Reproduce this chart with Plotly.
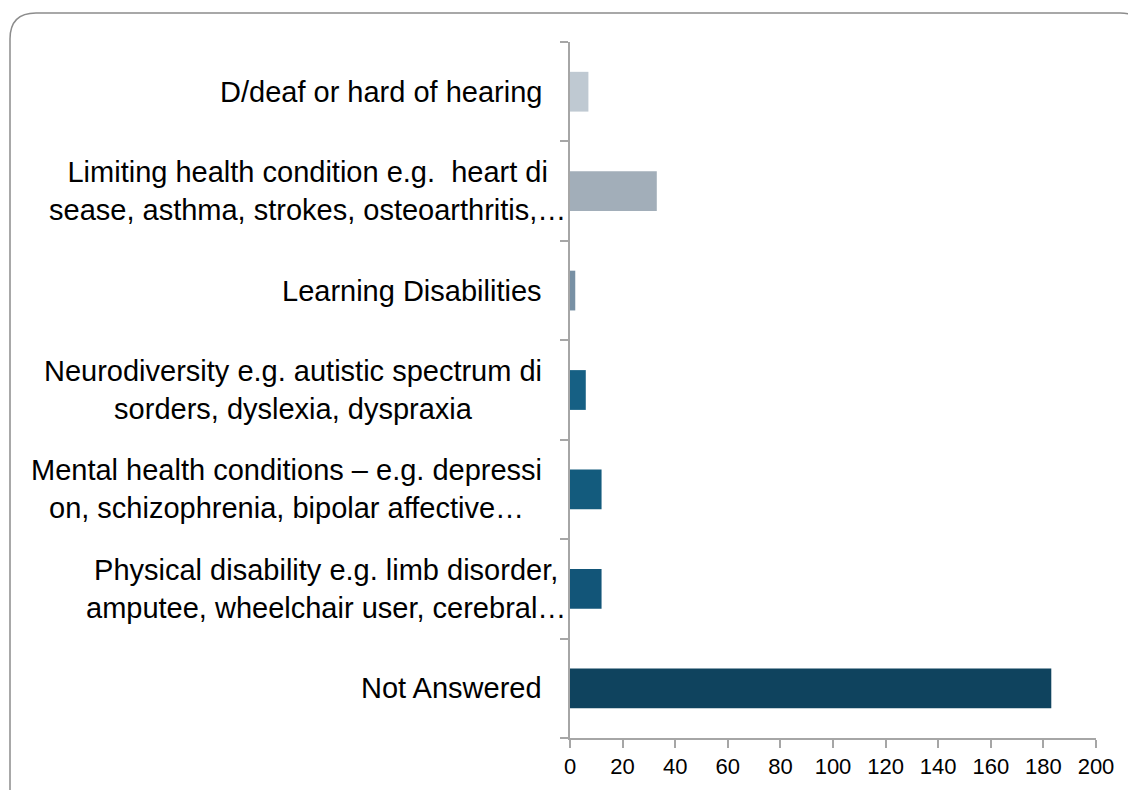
import plotly.graph_objects as go

categories = [
    "D/deaf or hard of hearing",
    "Limiting health condition e.g.\u00a0 heart di<br>sease, asthma, strokes, osteoarthritis,\u2026",
    "Learning Disabilities",
    "Neurodiversity e.g. autistic spectrum di<br>sorders, dyslexia, dyspraxia",
    "Mental health conditions \u2013 e.g. depressi<br>on, schizophrenia, bipolar affective\u2026",
    "Physical disability e.g. limb disorder,<br>amputee, wheelchair user, cerebral\u2026",
    "Not Answered",
]
values = [7, 33, 2, 6, 12, 12, 183]
colors = ["#BFC9D2", "#A2AEB9", "#7890A4", "#166084", "#135B7D", "#125578", "#0F435E"]
x_ticks = [0, 20, 40, 60, 80, 100, 120, 140, 160, 180, 200]

W, H = 1128, 790
L, R, T, B = 570, 32, 42, 52
pw, ph = W - L - R, H - T - B

def px(x):
    return (x - L) / pw

def py(y):
    return (H - B - y) / ph

ids = list(range(len(categories)))

fig = go.Figure(go.Bar(
    x=values, y=ids, orientation="h",
    marker=dict(color=colors, line=dict(width=0)),
    hoverinfo="x",
))

# labels whose wrapped text overflows toward the axis (as in the original)
overflow_shift = {1: 24, 5: 24}

annotations = []
for i, lab in enumerate(categories):
    annotations.append(dict(
        x=0, xref="paper", y=i, yref="y", text=lab,
        xanchor="right", yanchor="middle", align="center",
        xshift=-26 + overflow_shift.get(i, 0), showarrow=False,
        font=dict(family="Liberation Sans, Arial, sans-serif", size=29, color="#000000"),
    ))

# rounded border frame
x0, y0, x1, y1, r = 10, 13, 1146, 815, 26
path = (
    f"M {px(x0)},{py(y0 + r)} Q {px(x0)},{py(y0)} {px(x0 + r)},{py(y0)} "
    f"L {px(x1 - r)},{py(y0)} Q {px(x1)},{py(y0)} {px(x1)},{py(y0 + r)} "
    f"L {px(x1)},{py(y1 - r)} Q {px(x1)},{py(y1)} {px(x1 - r)},{py(y1)} "
    f"L {px(x0 + r)},{py(y1)} Q {px(x0)},{py(y1)} {px(x0)},{py(y1 - r)} Z"
)

fig.update_layout(
    width=W, height=H,
    margin=dict(l=L, r=R, t=T, b=B),
    paper_bgcolor="white", plot_bgcolor="white",
    bargap=0.6,
    showlegend=False,
    annotations=annotations,
    shapes=[dict(type="path", path=path, xref="paper", yref="paper",
                 line=dict(color="#8C8C8C", width=1.5), layer="below")],
    xaxis=dict(
        range=[0, 200], tickvals=x_ticks, ticktext=[str(v) for v in x_ticks],
        ticks="outside", ticklen=8, tickcolor="#A6A6A6", tickwidth=1.5,
        showline=True, linecolor="#A6A6A6", linewidth=1.5,
        showgrid=False, zeroline=False,
        tickfont=dict(family="Liberation Sans, Arial, sans-serif", size=22, color="#000000"),
    ),
    yaxis=dict(
        type="linear", range=[6.5, -0.5],
        tickvals=[k - 0.5 for k in range(len(categories) + 1)],
        showticklabels=False,
        ticks="outside", ticklen=8, tickcolor="#A6A6A6", tickwidth=1.5,
        showline=True, linecolor="#A6A6A6", linewidth=1.5,
        showgrid=False, zeroline=False,
    ),
)

fig.write_html(
    "out.html",
    config={"displayModeBar": False},
    post_script="document.body.style.margin='0px';document.body.style.overflow='hidden';",
)
